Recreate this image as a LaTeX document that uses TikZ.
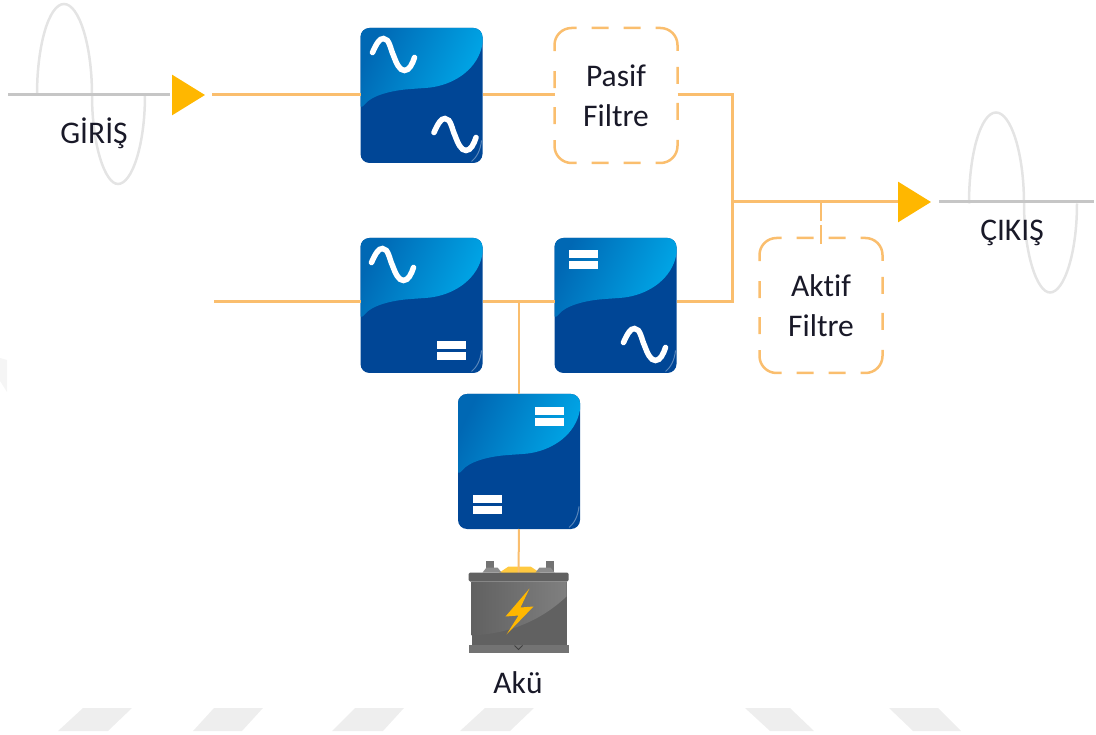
\documentclass[tikz,border=0pt]{standalone}
\usepackage{fontspec}
\setmainfont[RawFeature={-liga;-dlig;-clig}]{Carlito}
\usetikzlibrary{positioning, arrows.meta}

\definecolor{wirecol}{RGB}{250,190,110}
\definecolor{tipcol}{RGB}{255,183,0}
\definecolor{wavecol}{RGB}{228,228,228}
\definecolor{railcol}{RGB}{198,198,198}
\definecolor{darkblue}{RGB}{0,70,150}
\definecolor{midblue}{RGB}{0,104,180}
\definecolor{lightblue}{RGB}{0,170,234}
\definecolor{markcol}{RGB}{238,238,238}
\definecolor{labelcol}{RGB}{25,25,40}

\tikzset{
    pics/acsym/.style={code={
        \draw [white, line width=5.5pt, line cap=round] (-21,-3) .. controls (-17,-12) and (-14,-17) .. (-10,-17)
            .. controls (-4,-17) and (-3,-6) .. (0,0) .. controls (3,8) and (6,15) .. (11,15)
            .. controls (16,15) and (19,8) .. (21,2);
    }},
    pics/dcsym/.style={code={
        \fill [white] (-14.5,-9.5) rectangle (14.5,-1.5);
        \fill [white] (-14.5,1.5) rectangle (14.5,9.5);
    }},
    pics/wavesym/.style={code={
        \draw [wavecol, line width=2.5pt] (0,0) .. controls (0,-50) and (12,-91) .. (27,-91)
            .. controls (42,-91) and (55,-50) .. (55,0)
            .. controls (55,50) and (68,89) .. (81,89) .. controls (95,89) and (108,50) .. (108,0);
    }},
    pics/batterysym/.style={code={
        \fill [black!55] (-33,-53) rectangle (-25,-42);
        \fill [black!55] (27,-53) rectangle (35,-42);
        \fill [tipcol!75] (-22,-39) -- (-10,-47) -- (12,-47) -- (24,-39) -- cycle;
    }},
    pics/batterybody/.style={code={
        \fill [black!62, rounded corners=1.5pt] (-50,-41) rectangle (50,-32);
        \fill [black!45] (-36,-41) -- (-32,-46) -- (-21,-46) -- (-17,-41) -- cycle;
        \fill [black!45] (17,-41) -- (21,-46) -- (32,-46) -- (36,-41) -- cycle;
        \fill [black!62] (-47,-32) rectangle (48,32);
        \shade [left color=black!62, right color=black!50] (-47,-32) -- (48,-32) -- (48,-17)
            .. controls (30,0) and (0,20) .. (-47,22) -- cycle;
        \fill [black!55] (-50,31) rectangle (50,39);
        \draw [black!75, line width=1pt] (-4,32) -- (0,36) -- (4,32);
        \fill [tipcol] (11,-25) -- (-13,3) -- (0,2) -- (-12,21) -- (15,-7) -- (2,-6) -- cycle;
    }},
}

\begin{document}
\begin{tikzpicture}[x=1pt, y=-1pt, node distance=75pt and 72pt]
    \tikzstyle{conv} = [rectangle, rounded corners=9pt, inner sep=0pt, outer sep=0pt, fill=darkblue,
        minimum width=122pt, minimum height=135pt,
        path picture={
            \begin{scope}[shift={(path picture bounding box.center)}]
                \shade [left color=midblue, right color=lightblue, shading angle=65]
                    (-62,-68) -- (62,-68) -- (62,-52) .. controls (50,-20) and (25,-9) .. (-4,-7)
                    .. controls (-30,-5) and (-50,0) .. (-62,16) -- cycle;
                \draw [white, opacity=.35, line width=1pt] (60,45) .. controls (59,55) and (55,62) .. (50,66);
            \end{scope}
        }]
    \tikzstyle{filterbox} = [rectangle, draw=wirecol, line width=2.5pt,
        dash pattern=on 5pt off 15pt on 17pt off 15pt on 17pt off 15pt on 37.7pt off 20pt on 17pt off 19pt on 17pt off 16pt
            on 37.7pt off 15pt on 17pt off 15pt on 17pt off 15pt on 37.7pt off 20pt on 17pt off 19pt on 17pt off 16pt on 32.7pt off 0pt,
        rounded corners=17pt, inner sep=0pt, outer sep=0pt, minimum width=123pt, minimum height=135pt,
        align=center, text=labelcol, font=\fontsize{31.5}{40}\selectfont]
    \tikzstyle{caption} = [text=labelcol, inner sep=0pt, font=\fontsize{31.5}{36}\selectfont]
    \tikzstyle{line} = [draw=wirecol, line width=3pt]
    \tikzstyle{thinline} = [draw=wirecol, line width=2pt]
    \tikzstyle{dashline} = [draw=wirecol, line width=2pt, dash pattern=on 19pt off 4pt]
    \tikzstyle{rail} = [draw=railcol, line width=3pt]
    \tikzstyle{tipline} = [draw=wirecol, line width=3pt, -{Triangle[length=33pt, width=40pt, color=tipcol]}]
    \tikzstyle{bgmark} = [fill=markcol]

    \useasboundingbox (0,0) rectangle (1096,735);

    % background marks
    \path [bgmark] (83,708) -- (132,708) -- (108,731) -- (58,731) -- cycle;
    \path [bgmark] (214,708) -- (263,708) -- (242,731) -- (193,731) -- cycle;
    \path [bgmark] (355,708) -- (404,708) -- (383,731) -- (332,731) -- cycle;
    \path [bgmark] (485,708) -- (534,708) -- (510,731) -- (460,731) -- cycle;
    \path [bgmark] (745,708) -- (790,708) -- (814,731) -- (770,731) -- cycle;
    \path [bgmark] (889,708) -- (938,708) -- (961,731) -- (913,731) -- cycle;
    \path [bgmark, fill=markcol!60] (0,358) -- (7,360) -- (7,392) -- (0,381) -- cycle;

    % the two waves
    \pic at (37,95) {wavesym};
    \pic at (969,203.5) {wavesym};

    \node [conv] (bypass) at (421.5,95.5) {};
    \node [filterbox, right=of bypass] (pasif) {Pasif\\Filtre};
    \node [conv, below=of bypass] (rectifier) {};
    \node [conv, right=of rectifier] (inverter) {};
    \node [filterbox, right=83pt of inverter] (aktif) {Aktif\\Filtre};
    \node [conv] (charger) at (519,461.5) {};
    \node [minimum width=100pt, minimum height=79pt, inner sep=0pt, outer sep=0pt] (aku) at (518.5,613.5) {};

    \pic at ([shift={(-28,-40)}]bypass.center) {acsym};
    \pic at ([shift={(33.5,40)}]bypass.center) {acsym};
    \pic at ([shift={(-29,-40)}]rectifier.center) {acsym};
    \pic at ([shift={(30,45)}]rectifier.center) {dcsym};
    \pic at ([shift={(-32.5,-46)}]inverter.center) {dcsym};
    \pic at ([shift={(29,40)}]inverter.center) {acsym};
    \pic at ([shift={(30,-45)}]charger.center) {dcsym};
    \pic at ([shift={(-32,43)}]charger.center) {dcsym};

    \coordinate (infeed) at (212,95);
    \coordinate (bypassfeed) at (214,302);
    \coordinate (inrailstart) at (8,95);
    \coordinate (inrailend) at (170,95);
    \coordinate (intipstart) at (173,95);
    \coordinate (intipend) at (205,95);
    \coordinate (outrailstart) at (939,202);
    \coordinate (outrailend) at (1094,202);
    \coordinate (outtip) at (931,202);
    \coordinate (sumpoint) at (732,202);
    \coordinate (dclink) at (519,302);

    \path [rail] (inrailstart) -- (inrailend);
    \path [rail] (outrailstart) -- (outrailend);
    \path [tipline] (intipstart) -- (intipend);

    \path [line] (infeed) -- (bypass.west |- infeed);
    \path [line] (bypass.east |- infeed) -- (pasif.west |- infeed);
    \path [line] (pasif.east |- infeed) -- (sumpoint |- infeed) -- (sumpoint);
    \path [line] (bypassfeed) -- (rectifier.west |- bypassfeed);
    \path [line] (rectifier.east |- bypassfeed) -- (inverter.west |- bypassfeed);
    \path [line] (inverter.east |- bypassfeed) -- (sumpoint |- bypassfeed) -- (sumpoint);
    \path [tipline] (sumpoint) -- (outtip);
    \path [dashline] (aktif.north |- sumpoint) -- ([yshift=-6pt]aktif.north);
    \path [thinline] (dclink) -- (charger.north |- dclink) -- (charger.north);
    \pic at (aku.center) {batterysym};
    \path [thinline] (charger.south) -- (aku.north);
    \pic at (aku.center) {batterybody};

    \node [caption] (giris) at (94,133) {GİRİŞ};
    \node [caption] (cikis) at (1012,233) {ÇIKIŞ};
    \node [caption] (akulabel) at (518,683) {Akü};
\end{tikzpicture}
\end{document}
